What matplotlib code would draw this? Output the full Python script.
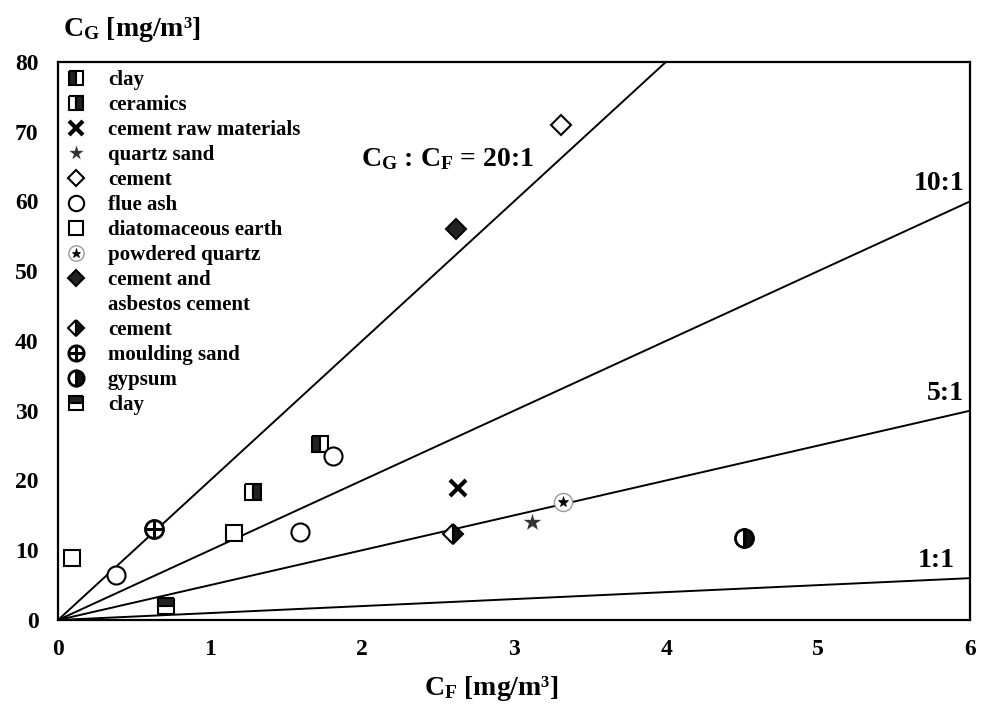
import matplotlib
matplotlib.use("Agg")
import matplotlib.pyplot as plt
from matplotlib.lines import Line2D
from matplotlib.legend_handler import HandlerTuple

plt.rcParams['font.family'] = ['Liberation Serif', 'DejaVu Serif']
plt.rcParams['font.weight'] = 'bold'
plt.rcParams['mathtext.fontset'] = 'custom'
plt.rcParams['mathtext.rm'] = 'Liberation Serif:bold'
plt.rcParams['mathtext.it'] = 'Liberation Serif:bold'
plt.rcParams['mathtext.bf'] = 'Liberation Serif:bold'

# ---- data ----
ratios = [20, 10, 5, 1]
ratio_labels = ["C$_\\mathrm{G}$ : C$_\\mathrm{F}$ = 20:1", "10:1", "5:1", "1:1"]
x_range = [0, 6]

clay1_x, clay1_y = [1.72], [25.2]
ceramics_x, ceramics_y = [1.28], [18.4]
rawmat_x, rawmat_y = [2.63], [18.9]
quartzsand_x, quartzsand_y = [3.12], [14.0]
cement_x, cement_y = [3.31], [71.0]
flueash_x, flueash_y = [0.38, 1.59, 1.81], [6.5, 12.6, 23.5]
diatom_x, diatom_y = [0.09, 1.16], [8.9, 12.5]
powquartz_x, powquartz_y = [3.32], [16.9]
asbestos_x, asbestos_y = [2.62], [56.1]
cement2_x, cement2_y = [2.60], [12.3]
moulding_x, moulding_y = [0.63], [13.0]
gypsum_x, gypsum_y = [4.51], [11.8]
clay2_x, clay2_y = [0.71], [2.0]

xticks = [0, 1, 2, 3, 4, 5, 6]
yticks = [0, 10, 20, 30, 40, 50, 60, 70, 80]

fig = plt.figure(figsize=(9.83, 7.13), dpi=100)
ax = fig.add_axes([0.059, 0.1304, 0.928, 0.783])

for r in ratios:
    ax.plot(x_range, [r * v for v in x_range], color='black', lw=1.4, zorder=1)

ms_sq = 12
ms_c = 13
ew = 1.5
h_clay1, = ax.plot(clay1_x, clay1_y, ls='none', marker='s', ms=ms_sq, fillstyle='left',
                   mfc='#222222', mfcalt='white', mec='black', mew=ew, zorder=3)
h_cer, = ax.plot(ceramics_x, ceramics_y, ls='none', marker='s', ms=ms_sq, fillstyle='left',
                 mfc='white', mfcalt='#222222', mec='black', mew=ew, zorder=3)
h_raw, = ax.plot(rawmat_x, rawmat_y, ls='none', marker='x', ms=12, mec='black', mew=3, zorder=3)
h_qs, = ax.plot(quartzsand_x, quartzsand_y, ls='none', marker='*', ms=15, mfc='#333333',
                mec='white', mew=0.5, zorder=3)
h_cem, = ax.plot(cement_x, cement_y, ls='none', marker='D', ms=10, mfc='white', mec='black',
                 mew=ew, zorder=3)
h_fa, = ax.plot(flueash_x, flueash_y, ls='none', marker='o', ms=ms_c, mfc='white', mec='black',
                mew=ew, zorder=3)
h_dia, = ax.plot(diatom_x, diatom_y, ls='none', marker='s', ms=ms_sq, mfc='white', mec='black',
                 mew=ew, zorder=3)
h_pq1, = ax.plot(powquartz_x, powquartz_y, ls='none', marker='o', ms=ms_c, mfc='white',
                 mec='#999999', mew=1, zorder=3)
h_pq2, = ax.plot(powquartz_x, powquartz_y, ls='none', marker='*', ms=8, mfc='black',
                 mec='black', mew=0.5, zorder=4)
h_asb, = ax.plot(asbestos_x, asbestos_y, ls='none', marker='D', ms=10, mfc='#222222',
                 mec='black', mew=ew, zorder=3)
h_cem2, = ax.plot(cement2_x, cement2_y, ls='none', marker='D', ms=10, fillstyle='left',
                  mfc='white', mfcalt='#111111', mec='black', mew=ew, zorder=3)
h_ms1, = ax.plot(moulding_x, moulding_y, ls='none', marker='o', ms=ms_c, mfc='white',
                 mec='black', mew=2, zorder=3)
h_ms2, = ax.plot(moulding_x, moulding_y, ls='none', marker='+', ms=ms_c - 1, mec='black',
                 mew=2.2, zorder=4)
h_gyp, = ax.plot(gypsum_x, gypsum_y, ls='none', marker='o', ms=ms_c, fillstyle='left',
                 mfc='white', mfcalt='#111111', mec='black', mew=2, zorder=3)
h_clay2, = ax.plot(clay2_x, clay2_y, ls='none', marker='s', ms=ms_sq, fillstyle='top',
                   mfc='#222222', mfcalt='white', mec='black', mew=ew, zorder=3)
h_blank = Line2D([], [], ls='none', marker='none')

handles = [h_clay1, h_cer, h_raw, h_qs, h_cem, h_fa, h_dia, (h_pq1, h_pq2), h_asb, h_blank,
           h_cem2, (h_ms1, h_ms2), h_gyp, h_clay2]
labels = ["clay", "ceramics", "cement raw materials", "quartz sand", "cement", "flue ash",
          "diatomaceous earth", "powdered quartz", "cement and", "asbestos cement", "cement",
          "moulding sand", "gypsum", "clay"]
leg = ax.legend(handles, labels, loc='upper left', frameon=False,
                prop={'family': 'Liberation Serif', 'weight': 'bold', 'size': 15},
                handler_map={tuple: HandlerTuple(ndivide=1, pad=0)},
                labelspacing=0.24, handlelength=0.9, handletextpad=1.1,
                borderaxespad=0.0, bbox_to_anchor=(0.0, 1.0), markerscale=0.85)

ax.set_xlim(0, 6)
ax.set_ylim(0, 80)
ax.set_xticks(xticks)
ax.set_yticks(yticks)
ax.set_xticklabels([str(t) for t in xticks])
ax.set_yticklabels([str(t) for t in yticks])
ax.tick_params(length=0, labelsize=17, pad=14)
for lab in ax.get_xticklabels() + ax.get_yticklabels():
    lab.set_fontweight('bold')
for sp in ax.spines.values():
    sp.set_linewidth(1.6)

ax.text(1.99, 66.0, ratio_labels[0], fontsize=20, fontweight='bold', ha='left', va='center')
ax.text(5.96, 62.6, ratio_labels[1], fontsize=20, fontweight='bold', ha='right', va='center')
ax.text(5.96, 32.5, ratio_labels[2], fontsize=20, fontweight='bold', ha='right', va='center')
ax.text(5.90, 8.6, ratio_labels[3], fontsize=20, fontweight='bold', ha='right', va='center')

fig.text(0.064, 0.958, "C$_\\mathrm{G}$ [mg/m³]", fontsize=20, fontweight='bold',
         ha='left', va='center')
fig.text(0.5, 0.035, "C$_\\mathrm{F}$ [mg/m³]", fontsize=20, fontweight='bold',
         ha='center', va='center')

fig.savefig("out.png", dpi=100)
